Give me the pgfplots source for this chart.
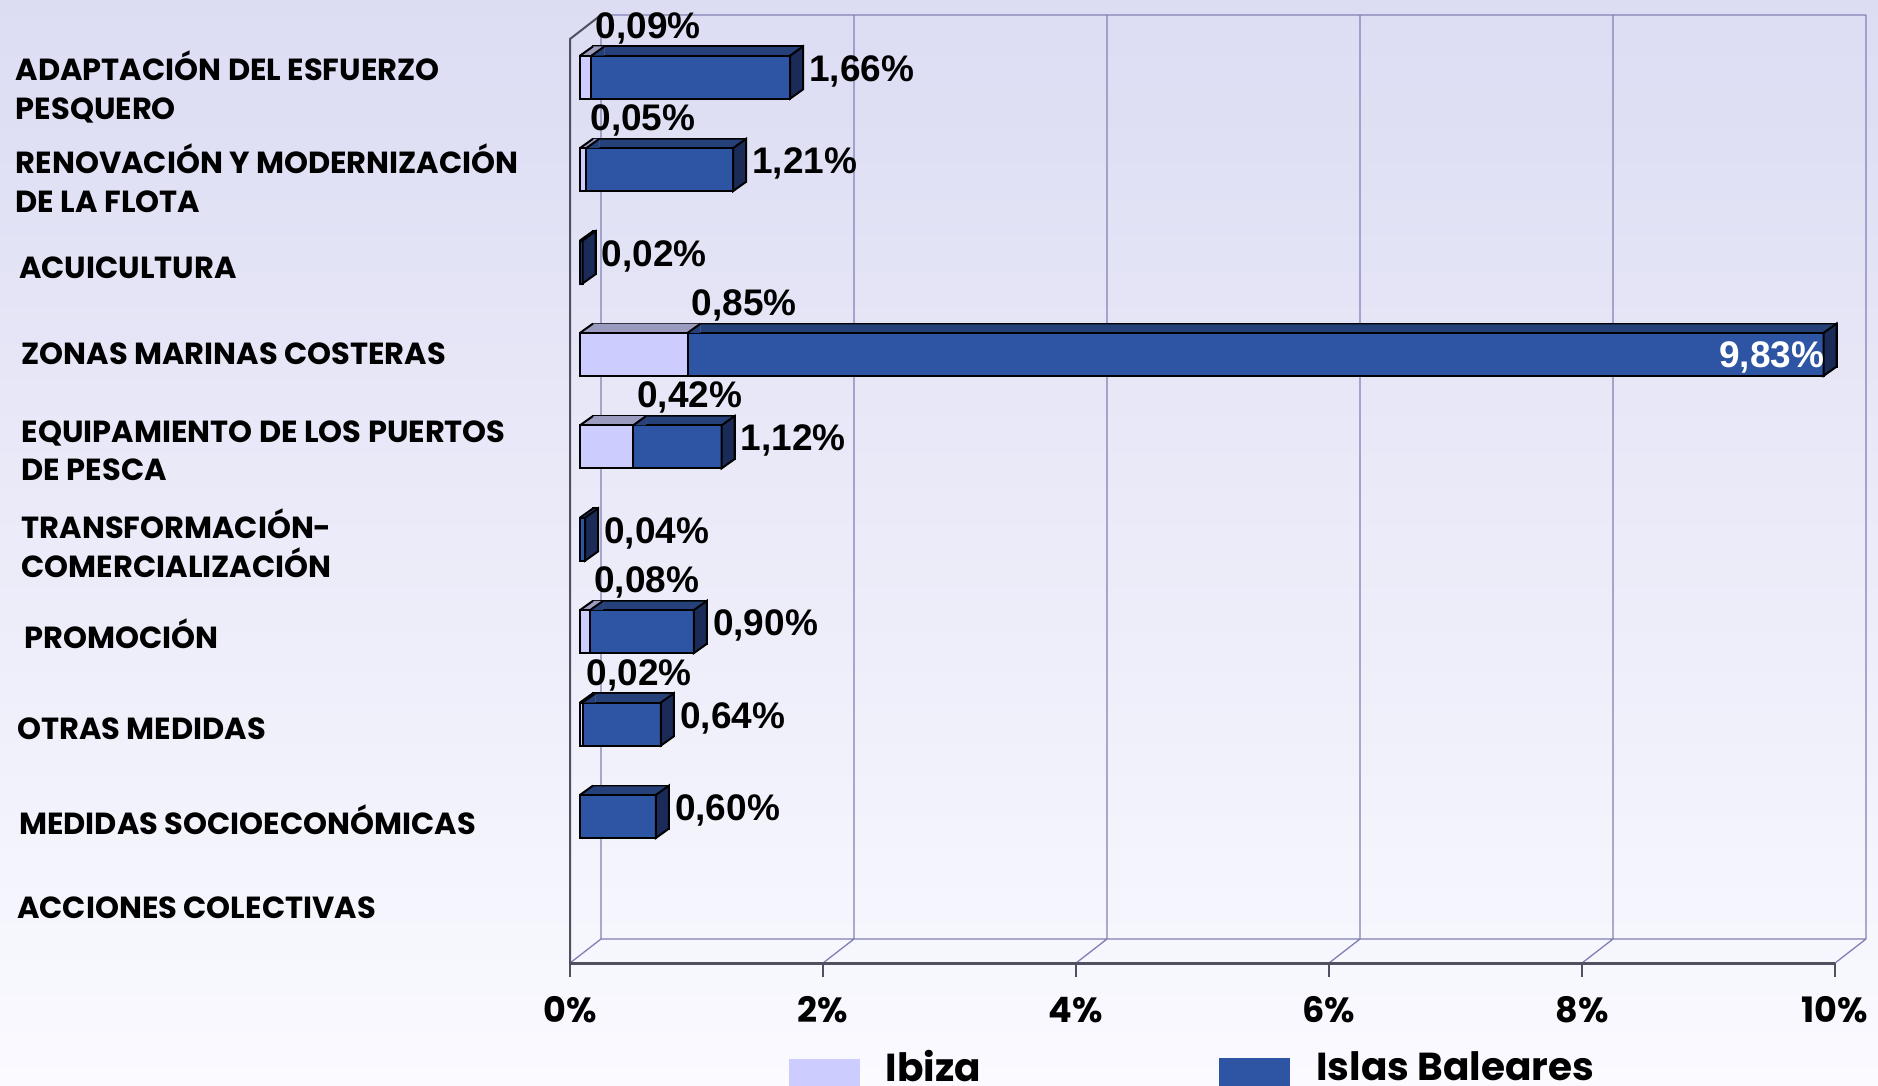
\documentclass[border=0pt]{standalone}
\usepackage{fontspec}
\setmainfont{Liberation Sans}
\newfontfamily\gothic{Poppins}
\usepackage{pgfplots}
\pgfplotsset{compat=1.18}
\usepackage{pgfplotstable}

\definecolor{ibfront}{RGB}{204,204,255}
\definecolor{ibtop}{RGB}{155,155,192}
\definecolor{balfront}{RGB}{46,85,164}
\definecolor{baltop}{RGB}{38,64,122}
\definecolor{balright}{RGB}{26,43,87}
\definecolor{gridc}{RGB}{128,128,180}
\definecolor{framec}{RGB}{80,80,96}
\definecolor{bgtop}{RGB}{220,220,243}
\definecolor{bgbot}{RGB}{250,250,255}

\pgfdeclareplotmark{rface}{%
  \pgfpathmoveto{\pgfqpoint{0pt}{-21.5pt}}%
  \pgfpathlineto{\pgfqpoint{0pt}{21.5pt}}%
  \pgfpathlineto{\pgfqpoint{13pt}{30.8pt}}%
  \pgfpathlineto{\pgfqpoint{13pt}{-12.2pt}}%
  \pgfpathclose
  \pgfusepathqfillstroke}
\pgfdeclareplotmark{tri}{%
  \pgfpathmoveto{\pgfqpoint{0pt}{21.5pt}}%
  \pgfpathlineto{\pgfqpoint{13pt}{21.5pt}}%
  \pgfpathlineto{\pgfqpoint{13pt}{30.8pt}}%
  \pgfpathclose
  \pgfusepathqfill
  \pgfpathmoveto{\pgfqpoint{0pt}{21.5pt}}%
  \pgfpathlineto{\pgfqpoint{13pt}{30.8pt}}%
  \pgfusepathqstroke}
\pgfdeclareplotmark{ldiag}{%
  \pgfpathmoveto{\pgfqpoint{0pt}{21.5pt}}%
  \pgfpathlineto{\pgfqpoint{13pt}{30.8pt}}%
  \pgfusepathqstroke}

\pgfplotstableread{
idx bal
0 1.66
1 1.21
2 0.02
3 9.83
4 1.12
5 0.04
6 0.90
7 0.64
8 0.60
}\baltab
\pgfplotstableread{
idx ib
0 0.09
1 0.05
3 0.85
4 0.42
6 0.08
7 0.02
}\ibtab

\newcommand\labfont{\fontsize{37}{40}\selectfont\bfseries}
\newcommand\catfont{\gothic\bfseries\fontsize{30.5}{36}\selectfont}
\newcommand\tickfont{\gothic\bfseries\fontsize{35}{40}\selectfont}

\begin{document}
\begin{tikzpicture}
\begin{scope}
\clip (0,0) rectangle (1878pt,1085pt);
\fill[top color=bgtop, bottom color=bgbot] (0,0) rectangle (1878pt,1085pt);
\begin{axis}[
  at={(580pt,130pt)}, anchor=south west,
  scale only axis, width=1265pt, height=924pt,
  xmin=0, xmax=10, ymin=-0.5, ymax=9.5, y dir=reverse,
  hide axis, clip=false,
  legend image code/.code={},
  legend image post style={draw=none, opacity=0},
  legend style={at={(axis description cs:0.1652,-0.1028)}, anchor=north west,
    draw=none, fill=none, inner sep=0pt, outer sep=0pt,
    font=\gothic\bfseries\fontsize{39}{44}\selectfont,
    /tikz/every even column/.append style={column sep=238pt},
    nodes={inner sep=0pt, outer sep=0pt}},
  legend columns=2, legend cell align=left,
]
% back wall grid
\addplot[gridc, line width=1.3pt, unbounded coords=jump] coordinates {
 (0.166,-0.6732)(0.166,9.3268) (nan,nan)
 (2.166,-0.6732)(2.166,9.3268) (nan,nan)
 (4.166,-0.6732)(4.166,9.3268) (nan,nan)
 (6.166,-0.6732)(6.166,9.3268) (nan,nan)
 (8.166,-0.6732)(8.166,9.3268) (nan,nan)
 (10.166,-0.6732)(10.166,9.3268) (nan,nan)
 (0.166,-0.6732)(10.166,-0.6732) (nan,nan)
 (0.166,9.3268)(10.166,9.3268) (nan,nan)
 (-0.0791,9.5866)(0.166,9.3268) (nan,nan)
 (1.9209,9.5866)(2.166,9.3268) (nan,nan)
 (3.9209,9.5866)(4.166,9.3268) (nan,nan)
 (5.9209,9.5866)(6.166,9.3268) (nan,nan)
 (7.9209,9.5866)(8.166,9.3268) (nan,nan)
 (9.9209,9.5866)(10.166,9.3268)
};
% front frame
\addplot[framec, line width=2pt] coordinates {(0.166,-0.6732)(-0.0791,-0.4134)(-0.0791,9.5866)};
\addplot[framec, line width=3pt] coordinates {(-0.0791,9.5866)(9.9209,9.5866)};
\addplot[framec, line width=1.2pt, unbounded coords=jump] coordinates {
 (-0.0791,9.5866)(-0.0791,9.738) (nan,nan)
 (1.9209,9.5866)(1.9209,9.738) (nan,nan)
 (3.9209,9.5866)(3.9209,9.738) (nan,nan)
 (5.9209,9.5866)(5.9209,9.738) (nan,nan)
 (7.9209,9.5866)(7.9209,9.738) (nan,nan)
 (9.9209,9.5866)(9.9209,9.738)
};
% tick labels
\addplot[draw=none, mark=none, nodes near coords, point meta=explicit symbolic,
  nodes near coords style={anchor=base, yshift=-59pt, inner sep=0pt, font=\tickfont, text=black}]
  coordinates {(-0.0791,9.5866)[0\%] (1.9209,9.5866)[2\%] (3.9209,9.5866)[4\%]
   (5.9209,9.5866)[6\%] (7.9209,9.5866)[8\%] (9.9209,9.5866)[10\%]};

% Baleares extrusion
\addplot[xbar, bar width=43pt, bar shift=0pt, fill=baltop, draw=black, line width=2pt,
  xshift=13pt, yshift=9.3pt] table[x=bal,y=idx]{\baltab};
\pgfplotsinvokeforeach{12,11,...,1}{
  \addplot[xbar, bar width=43pt, bar shift=0pt, fill=baltop, draw=none,
    xshift=#1pt, yshift={#1*0.715pt}] table[x=bal,y=idx]{\baltab};
}
% Ibiza extrusion
\pgfplotsinvokeforeach{13,12,...,1}{
  \addplot[xbar, bar width=43pt, bar shift=0pt, fill=ibtop, draw=none,
    xshift=#1pt, yshift={#1*0.715pt}] table[x=ib,y=idx]{\ibtab};
}
\addplot[only marks, mark=tri, mark options={fill=baltop, draw=black, line width=2pt}]
  table[x=ib,y=idx]{\ibtab};
\addplot[only marks, mark=ldiag, mark options={draw=black, line width=2pt}]
  table[x expr=0,y=idx]{\baltab};
% front faces
\addplot[xbar, bar width=43pt, bar shift=0pt, fill=balfront, draw=black, line width=2pt]
  table[x=bal,y=idx]{\baltab};
\addplot[xbar, bar width=43pt, bar shift=0pt, fill=ibfront, draw=black, line width=2pt]
  table[x=ib,y=idx]{\ibtab};
\addplot[only marks, mark=rface, mark options={fill=balright, draw=black, line width=2pt}]
  table[x=bal,y=idx]{\baltab};

% value labels
\addplot[draw=none, mark=none, nodes near coords, point meta=explicit symbolic,
  nodes near coords style={anchor=base west, xshift=19pt, yshift=-4pt, inner sep=0pt, font=\labfont, text=black}]
  coordinates {(1.66,0)[1,66\%] (1.21,1)[1,21\%] (0.02,2)[0,02\%] (1.12,4)[1,12\%]
   (0.04,5)[0,04\%] (0.90,6)[0,90\%] (0.64,7)[0,64\%] (0.60,8)[0,60\%]};
\addplot[draw=none, mark=none, nodes near coords, point meta=explicit symbolic,
  nodes near coords style={anchor=base east, xshift=1pt, yshift=-13.5pt, inner sep=0pt, font=\labfont, text=white}]
  coordinates {(9.83,3)[9,83\%]};
\addplot[draw=none, mark=none, nodes near coords, point meta=explicit symbolic,
  nodes near coords style={anchor=base west, xshift=4pt, yshift=39pt, inner sep=0pt, font=\labfont, text=black}]
  coordinates {(0.09,0)[0,09\%] (0.05,1)[0,05\%] (0.85,3)[0,85\%] (0.42,4)[0,42\%]
   (0.08,6)[0,08\%] (0.02,7)[0,02\%]};

% category labels
\addplot[draw=none, mark=none, nodes near coords, point meta=explicit symbolic,
  nodes near coords style={anchor=base west, yshift=-11pt, inner sep=0pt, font=\catfont, text=black}]
  coordinates {
   (-4.462,-0.0866)[ADAPTACIÓN DEL ESFUERZO] (-4.462,0.3355)[PESQUERO]
   (-4.462,0.9199)[RENOVACIÓN Y MODERNIZACIÓN] (-4.462,1.342)[DE LA FLOTA]
   (-4.435,2.056)[ACUICULTURA]
   (-4.415,2.987)[ZONAS MARINAS COSTERAS]
   (-4.415,3.831)[EQUIPAMIENTO DE LOS PUERTOS] (-4.415,4.242)[DE PESCA]
   (-4.415,4.870)[TRANSFORMACIÓN-] (-4.415,5.292)[COMERCIALIZACIÓN]
   (-4.395,6.061)[PROMOCIÓN]
   (-4.451,7.045)[OTRAS MEDIDAS]
   (-4.435,8.074)[MEDIDAS SOCIOECONÓMICAS]
   (-4.451,8.983)[ACCIONES COLECTIVAS]};

% legend
\addlegendimage{empty legend, draw=none, mark=none}
\addlegendentry{\textcolor{ibfront}{\rule[-6pt]{71pt}{28pt}}\hspace{26pt}Ibiza}
\addlegendimage{empty legend, draw=none, mark=none}
\addlegendentry{\textcolor{balfront}{\rule[-6pt]{71pt}{28pt}}\hspace{26pt}Islas Baleares}
\end{axis}
\end{scope}
\pgfresetboundingbox
\useasboundingbox (0,0) rectangle (1878pt,1085pt);
\end{tikzpicture}
\end{document}
